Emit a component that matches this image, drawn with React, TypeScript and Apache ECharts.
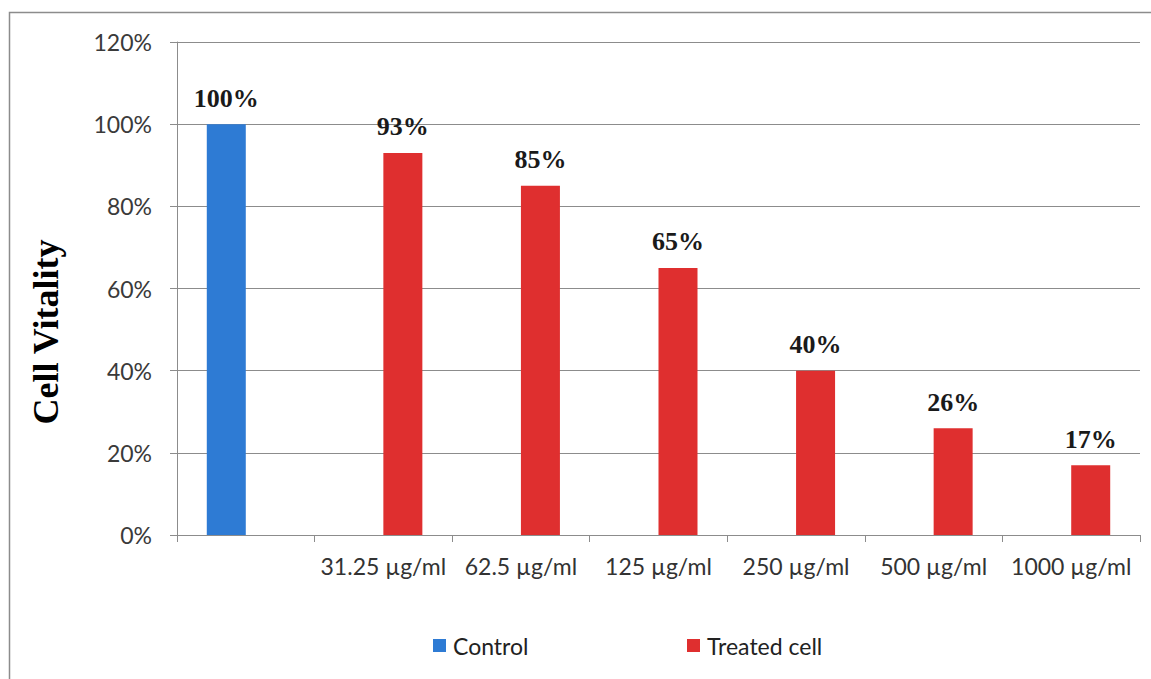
import React, { useEffect, useRef } from "react";
import * as echarts from "echarts";

const categories = ["", "31.25 µg/ml", "62.5 µg/ml", "125 µg/ml", "250 µg/ml", "500 µg/ml", "1000 µg/ml"];
const controlValues = [100, null, null, null, null, null, null];
const treatedValues = [null, 93, 85, 65, 40, 26, 17];
const seriesNames = ["Control", "Treated cell"];
const yTitle = "Cell Vitality";

export default function App() {
  const ref = useRef<HTMLDivElement>(null);
  useEffect(() => {
    document.body.style.margin = "0";
    const chart = echarts.init(ref.current!, null, { renderer: "svg" });
    const gray = "#8c8c8c";
    const labelStyle = {
      show: true,
      position: "top" as const,
      distance: 13,
      formatter: "{c}%",
      fontFamily: "Liberation Serif",
      fontWeight: "bold" as const,
      fontSize: 26,
      color: "#1a1a1a",
    };
    const legendText = { fontFamily: "Lato", fontSize: 23, color: "#222222", padding: [0, 0, 0, 2] };
    chart.setOption({
      animation: false,
      backgroundColor: "#ffffff",
      grid: { left: 177, right: 11, top: 42, bottom: 144 },
      xAxis: {
        type: "category",
        data: categories,
        axisLine: { show: true, lineStyle: { color: gray, width: 1 } },
        axisTick: { show: true, alignWithLabel: false, length: 7, lineStyle: { color: gray } },
        axisLabel: { fontFamily: "Lato", fontSize: 23, color: "#333333", margin: 19, interval: 0 },
      },
      yAxis: {
        type: "value",
        min: 0,
        max: 120,
        interval: 20,
        axisLine: { show: true, lineStyle: { color: gray, width: 1 } },
        axisTick: { show: true, length: 7, lineStyle: { color: gray } },
        axisLabel: { formatter: "{value}%", fontFamily: "Lato", fontSize: 23, color: "#3a3a3a", margin: 25 },
        splitLine: { show: true, lineStyle: { color: gray, width: 1 } },
      },
      legend: [
        {
          data: [seriesNames[0]],
          left: 428,
          top: 629,
          itemWidth: 13,
          itemHeight: 13,
          icon: "rect",
          textStyle: legendText,
        },
        {
          data: [seriesNames[1]],
          left: 682,
          top: 629,
          itemWidth: 13,
          itemHeight: 13,
          icon: "rect",
          textStyle: legendText,
        },
      ],
      series: [
        {
          name: seriesNames[0],
          type: "bar",
          data: controlValues,
          barWidth: 39,
          barGap: "0%",
          itemStyle: { color: "#2e7bd4" },
          label: labelStyle,
        },
        {
          name: seriesNames[1],
          type: "bar",
          data: treatedValues,
          barWidth: 39,
          barGap: "0%",
          itemStyle: { color: "#df2f2f" },
          label: labelStyle,
        },
      ],
      graphic: [
        {
          type: "rect",
          shape: { x: 9.5, y: 12.5, width: 1300, height: 800 },
          style: { fill: "none", stroke: "#8c8c8c", lineWidth: 1.5 },
          silent: true,
          z: -1,
        },
        {
          type: "text",
          x: 46,
          y: 332,
          rotation: Math.PI / 2,
          style: {
            text: yTitle,
            fontFamily: "Liberation Serif",
            fontWeight: "bold",
            fontSize: 36,
            fill: "#000000",
            align: "center",
            verticalAlign: "middle",
          },
        },
      ],
    });
    return () => chart.dispose();
  }, []);
  return <div ref={ref} style={{ width: 1151, height: 679 }} />;
}
